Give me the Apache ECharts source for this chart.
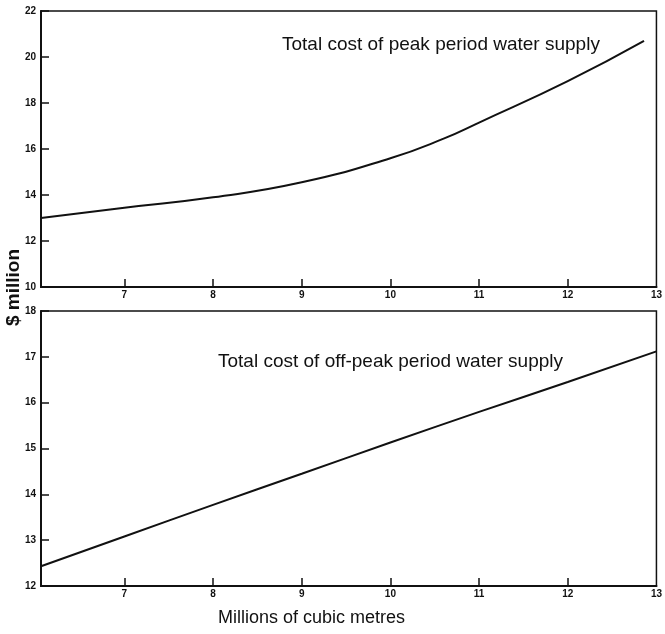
<!DOCTYPE html>
<html>
<head>
<meta charset="utf-8">
<script src="https://cdn.jsdelivr.net/npm/echarts@6/dist/echarts.min.js"></script>
<style>
  html, body { margin: 0; padding: 0; background: #fff; }
  #chart { width: 665px; height: 634px; }
</style>
</head>
<body>
<div id="chart"></div>
<script>
// volumes (millions of cubic metres) and costs ($ million)
var peakVolume = [6.06, 7, 8, 9, 10, 10.6, 11, 12, 12.86];
var peakCost = [13.0, 13.45, 13.9, 14.55, 15.6, 16.45, 17.15, 18.95, 20.7];
var offPeakVolume = [6.06, 7, 8, 9, 10, 11, 12, 13];
var offPeakCost = [12.43, 13.08, 13.77, 14.45, 15.13, 15.8, 16.45, 17.12];
var xTicks = [7, 8, 9, 10, 11, 12, 13];

function pairs(xs, ys) {
  return xs.map(function (x, i) { return [x, ys[i]]; });
}

var labelFont = { fontFamily: 'Liberation Sans', fontWeight: 'bold', fontSize: 10, color: '#111' };

function xAxisFor(gridIndex) {
  return {
    type: 'value',
    gridIndex: gridIndex,
    min: 6.06,
    max: 13,
    axisLine: { lineStyle: { color: '#111', width: 2 } },
    axisTick: { inside: true, length: 8, customValues: xTicks.slice(0, 6), lineStyle: { color: '#111', width: 1.5 } },
    axisLabel: Object.assign({ customValues: xTicks, margin: 3 }, labelFont),
    splitLine: { show: false }
  };
}

function yAxisFor(gridIndex, min, max, step) {
  return {
    type: 'value',
    gridIndex: gridIndex,
    min: min,
    max: max,
    interval: step,
    axisLine: { lineStyle: { color: '#111', width: 2 } },
    axisTick: { inside: true, length: 8, lineStyle: { color: '#111', width: 1.5 } },
    axisLabel: Object.assign({ margin: 5 }, labelFont),
    splitLine: { show: false }
  };
}

var chart = echarts.init(document.getElementById('chart'));
var option = {
  animation: false,
  backgroundColor: '#fff',
  grid: [
    { left: 41, right: 4, top: 11, height: 276, show: true, borderColor: '#111', borderWidth: 1.5 },
    { left: 41, right: 4, top: 311, height: 275, show: true, borderColor: '#111', borderWidth: 1.5 }
  ],
  xAxis: [xAxisFor(0), xAxisFor(1)],
  yAxis: [yAxisFor(0, 10, 22, 2), yAxisFor(1, 12, 18, 1)],
  series: [
    {
      name: 'Peak',
      type: 'line',
      xAxisIndex: 0,
      yAxisIndex: 0,
      smooth: true,
      showSymbol: false,
      lineStyle: { color: '#111', width: 2 },
      data: pairs(peakVolume, peakCost)
    },
    {
      name: 'Off-peak',
      type: 'line',
      xAxisIndex: 1,
      yAxisIndex: 1,
      smooth: true,
      showSymbol: false,
      lineStyle: { color: '#111', width: 2 },
      data: pairs(offPeakVolume, offPeakCost)
    }
  ],
  graphic: [
    {
      type: 'text', left: 282, top: 35,
      style: { text: 'Total cost of peak period water supply', font: '19px "Liberation Sans"', fill: '#111' }
    },
    {
      type: 'text', left: 218, top: 352,
      style: { text: 'Total cost of off-peak period water supply', font: '19px "Liberation Sans"', fill: '#111' }
    },
    {
      type: 'text', left: 218, top: 609,
      style: { text: 'Millions of cubic metres', font: '18px "Liberation Sans"', fill: '#111' }
    },
    {
      type: 'text', x: 4, y: 326, rotation: Math.PI / 2,
      style: { text: '$ million', font: 'bold 19px "Liberation Sans"', fill: '#111' }
    }
  ]
};
chart.setOption(option);
</script>
</body>
</html>
